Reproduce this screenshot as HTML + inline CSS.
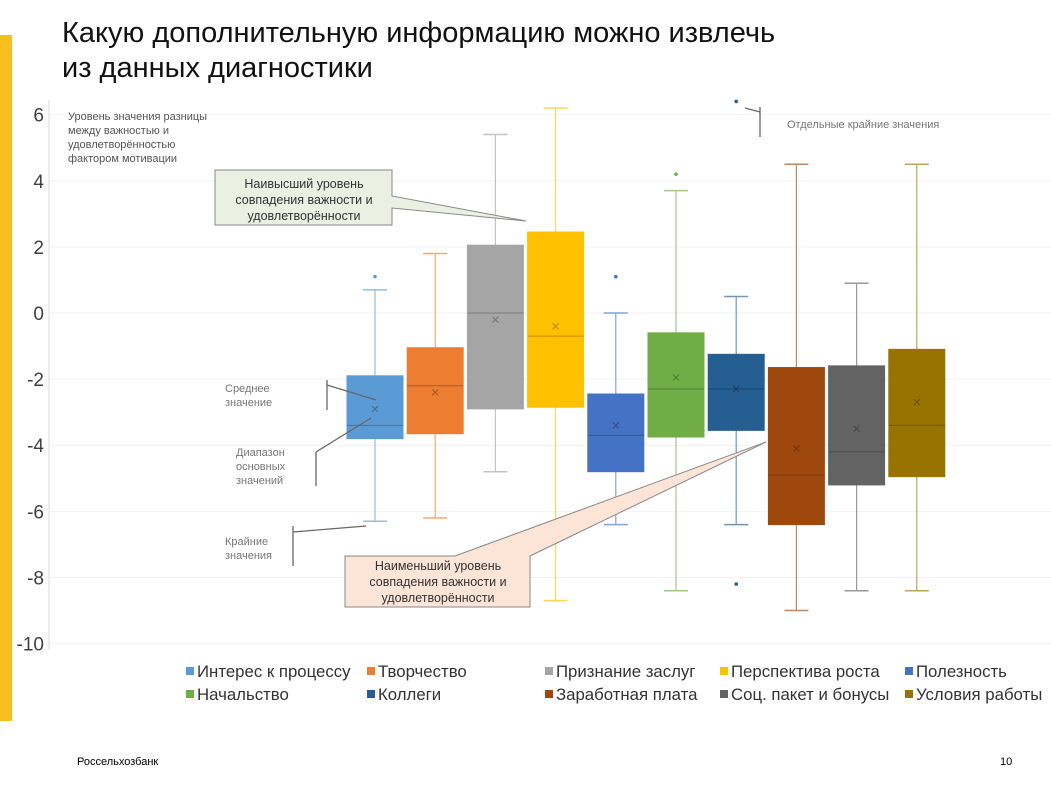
<!DOCTYPE html>
<html><head><meta charset="utf-8"><style>
body{margin:0;background:#fff;font-family:"Liberation Sans","Noto Sans CJK SC",sans-serif}
#wrap{position:relative;width:1051px;height:789px;overflow:hidden}
</style></head><body>
<div id="wrap">
<div style="position:absolute;left:0;top:35px;width:12px;height:686px;background:#F6BE1E"></div>
<div style="position:absolute;left:62px;top:16px;font-size:29px;line-height:35px;color:#111">Какую дополнительную информацию можно извлечь<br>из данных диагностики</div>
<div style="position:absolute;left:77px;top:756px;font-size:11px;color:#000">Россельхозбанк</div>
<div style="position:absolute;left:1000px;top:756px;font-size:11px;color:#000">10</div>
<svg id="chart" width="1051" height="789" style="position:absolute;left:0;top:0"></svg>
</div>
<script>
const categories=["Интерес к процессу","Творчество","Признание заслуг","Перспектива роста","Полезность","Начальство","Коллеги","Заработная плата","Соц. пакет и бонусы","Условия работы"];
const colors=["#5B9BD5","#ED7D31","#A5A5A5","#FFC000","#4472C4","#70AD47","#255E91","#9E480E","#636363","#997300"];
const whiskerMax=[0.7,1.8,5.4,6.2,0,3.7,0.5,4.5,0.9,4.5];
const q3=[-1.9,-1.05,2.05,2.45,-2.45,-0.6,-1.25,-1.65,-1.6,-1.1];
const median=[-3.4,-2.2,0,-0.7,-3.7,-2.3,-2.3,-4.9,-4.2,-3.4];
const q1=[-3.8,-3.65,-2.9,-2.85,-4.8,-3.75,-3.55,-6.4,-5.2,-4.95];
const whiskerMin=[-6.3,-6.2,-4.8,-8.7,-6.4,-8.4,-6.4,-9,-8.4,-8.4];
const means=[-2.9,-2.4,-0.2,-0.4,-3.4,-1.95,-2.3,-4.1,-3.5,-2.7];
const outliers=[[1.1],[],[],[],[1.1],[4.2],[6.4,-8.2],[],[],[]];
const yTicks=[6,4,2,0,-2,-4,-6,-8,-10];
const svg=document.getElementById('chart');
const NS="http://www.w3.org/2000/svg";
const yScale=v=>313-v*33.06;
const xScale=i=>375+i*60.2;
function mk(tag,attrs,parent){const e=document.createElementNS(NS,tag);for(const k in attrs)e.setAttribute(k,attrs[k]);(parent||svg).appendChild(e);return e;}
yTicks.forEach(t=>{
 const g=mk('line',{x1:50,x2:1051,y1:yScale(t),y2:yScale(t),stroke:'#F2F2F2','stroke-width':1});
 
 
 const tx=mk('text',{x:44,y:yScale(t)+7,'text-anchor':'end','font-size':19,fill:'#404040'});
 tx.textContent=t;
 
 
});
const ax=mk('line',{x1:49,x2:49,y1:100,y2:650,stroke:'#D9D9D9'});


const hw=28;
categories.forEach((c,i)=>{
 const x=xScale(i),col=colors[i];
 const g=mk('g',{});
 
 
 const w=mk('g',{opacity:0.65},g);
 mk('line',{x1:x,x2:x,y1:yScale(whiskerMax[i]),y2:yScale(whiskerMin[i]),stroke:col,'stroke-width':1.2},w);
 mk('line',{x1:x-12,x2:x+12,y1:yScale(whiskerMax[i]),y2:yScale(whiskerMax[i]),stroke:col,'stroke-width':1.5},w);
 mk('line',{x1:x-12,x2:x+12,y1:yScale(whiskerMin[i]),y2:yScale(whiskerMin[i]),stroke:col,'stroke-width':1.5},w);
 mk('rect',{x:x-hw,y:yScale(q3[i]),width:hw*2,height:yScale(q1[i])-yScale(q3[i]),fill:col,stroke:col,'stroke-width':1},g);
 mk('line',{x1:x-hw,x2:x+hw,y1:yScale(median[i]),y2:yScale(median[i]),stroke:'rgba(0,0,0,0.25)','stroke-width':1},g);
 const my=yScale(means[i]);
 mk('path',{d:`M${x-3},${my-3}L${x+3},${my+3}M${x+3},${my-3}L${x-3},${my+3}`,stroke:'rgba(0,0,0,0.3)','stroke-width':1},g);
 outliers[i].forEach(o=>{mk('circle',{cx:x,cy:yScale(o),r:1.8,fill:col},g);});
});
const legX=[186,367,545,720,905];
categories.forEach((c,i)=>{
 const lx=legX[i%5],ly=i<5?672:695;
 const r=mk('rect',{x:lx,y:ly-5,width:8,height:8,fill:colors[i]});
 
 
 const t=mk('text',{x:lx+11,y:ly+5,'font-size':16.8,fill:'#333'});
 t.textContent=c;
 
 
});
function txt(lines,x,y,size,fill,anchor,name){const t=mk('text',{x:x,y:y,'font-size':size,fill:fill,'text-anchor':anchor||'start'});
 
 
 lines.forEach((l,k)=>{const s=mk('tspan',{x:x,dy:k?size*1.28:0},t);s.textContent=l;});}
txt(["Уровень значения разницы","между важностью и","удовлетворённостью","фактором мотивации"],68,120,11,'#555','start','y-axis-title');
txt(["Среднее","значение"],225,392,11,'#777','start','mean-annotation');
txt(["Диапазон","основных","значений"],236,456,11,'#777','start','range-annotation');
txt(["Крайние","значения"],225,545,11,'#777','start','extremes-annotation');
txt(["Отдельные крайние значения"],787,128,11,'#777','start','outlier-annotation');
const lines=[[327,380,327,410],[327,385,376,400],[316,452,316,486],[316,452,371,418],[293,526,293,566],[293,532,366,526],[760,107,760,137],[745,108,760,112]];
lines.forEach(l=>{const e=mk('line',{x1:l[0],y1:l[1],x2:l[2],y2:l[3],stroke:'#666','stroke-width':1.3});
 
 });
const c1=mk('path',{d:'M215,170H392V196L526,221L392,208V225H215Z',fill:'#EBF0E2',stroke:'#888','stroke-width':1});


txt(["Наивысший уровень","совпадения важности и","удовлетворённости"],304,188,12.5,'#333','middle','highest-callout-text');
const c2=mk('path',{d:'M345,556H455L766,442L530,556H530V607H345Z',fill:'#FCE4D6',stroke:'#888','stroke-width':1});


txt(["Наименьший уровень","совпадения важности и","удовлетворённости"],438,570,12.5,'#333','middle','lowest-callout-text');
</script>
</body></html>
